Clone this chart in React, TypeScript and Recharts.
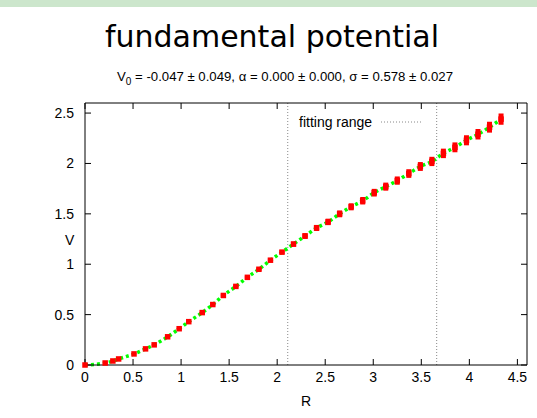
import React from "react";
import {
  ComposedChart,
  Line,
  XAxis,
  YAxis,
  ErrorBar,
  ReferenceLine,
} from "recharts";

// lattice distances R and measured potential V(R) with errors
const rValues = [
  0, 0.21, 0.29, 0.35, 0.51, 0.63, 0.72, 0.86, 0.98, 1.08, 1.22, 1.33, 1.44,
  1.57, 1.69, 1.81, 1.93, 2.05, 2.17, 2.29, 2.41, 2.53, 2.65, 2.77, 2.89, 3.01,
  3.13, 3.25, 3.37, 3.49, 3.61, 3.73, 3.85, 3.97, 4.09, 4.21, 4.33,
];
const vValues = [
  0, 0.02, 0.04, 0.06, 0.11, 0.16, 0.2, 0.28, 0.36, 0.43, 0.52, 0.6, 0.69,
  0.78, 0.87, 0.95, 1.04, 1.12, 1.2, 1.28, 1.36, 1.42, 1.5, 1.57, 1.63, 1.71,
  1.77, 1.83, 1.9, 1.97, 2.02, 2.1, 2.16, 2.23, 2.29, 2.36, 2.44,
];
const vErrors = [
  0, 0.001, 0.002, 0.002, 0.003, 0.004, 0.005, 0.006, 0.007, 0.008, 0.009,
  0.01, 0.011, 0.012, 0.014, 0.016, 0.018, 0.02, 0.025, 0.028, 0.03, 0.032,
  0.034, 0.035, 0.037, 0.038, 0.04, 0.041, 0.043, 0.044, 0.046, 0.047, 0.049,
  0.05, 0.052, 0.054, 0.056,
];
const fitRange = [2.11, 3.66];
const xTicks = [0, 0.5, 1, 1.5, 2, 2.5, 3, 3.5, 4, 4.5];
const yTicks = [0, 0.5, 1, 1.5, 2, 2.5];

const data = rValues.map((r, i) => ({ r, v: vValues[i], err: vErrors[i] }));

const font = "'Liberation Sans', Arial, sans-serif";

const Square = (props: any) => {
  const { cx, cy, index } = props;
  return <rect key={`sq${index}`} x={cx - 2.75} y={cy - 2.75} width={5.5} height={5.5} fill="#ff0000" />;
};

const LegendBox = () => (
  <div style={{ position: "absolute", left: 299, top: 114, fontFamily: font, fontSize: 14, display: "flex", alignItems: "center" }}>
    <span>fitting range</span>
    <svg width={48} height={10} style={{ marginLeft: 9 }}>
      <line x1={0} y1={5} x2={40} y2={5} stroke="#888" strokeWidth={1} strokeDasharray="1 2" />
    </svg>
  </div>
);

const tickStyle = { fontFamily: font, fontSize: 14, fill: "#000" };

export default function App() {
  return (
    <div style={{ position: "absolute", left: 0, top: 0, width: 537, height: 418, background: "#fff" }}>
      <div style={{ position: "absolute", left: 0, top: 0, width: 537, height: 7, background: "#cce6cc" }} />
      <div style={{ position: "absolute", left: 0, width: 544, top: 22, textAlign: "center", fontFamily: "'DejaVu Sans', sans-serif", fontSize: 30, lineHeight: "30px" }}>
        fundamental potential
      </div>
      <div style={{ position: "absolute", left: 0, width: 570, top: 69, textAlign: "center", fontFamily: font, fontSize: 13.2 }}>
        V<sub style={{ fontSize: 10 }}>0</sub> = -0.047 ± 0.049, α = 0.000 ± 0.000, σ = 0.578 ± 0.027
      </div>
      <ComposedChart
        width={537}
        height={418}
        data={data}
        margin={{ top: 97, right: 9, left: 50, bottom: 23 }}
        style={{ position: "absolute", left: 0, top: 0 }}
      >
        <XAxis
          xAxisId="b"
          dataKey="r"
          type="number"
          domain={[0, 4.6]}
          ticks={xTicks}
          height={30}
          tickSize={-6}
          tickMargin={13}
          stroke="#000"
          tick={tickStyle}
        />
        <XAxis
          xAxisId="t"
          dataKey="r"
          orientation="top"
          type="number"
          domain={[0, 4.6]}
          ticks={xTicks}
          height={6}
          tickSize={-6}
          tickFormatter={() => ""}
          stroke="#000"
        />
        <YAxis
          yAxisId="l"
          type="number"
          domain={[0, 2.6]}
          ticks={yTicks}
          width={35}
          tickSize={-6}
          tickMargin={17}
          stroke="#000"
          tick={tickStyle}
        />
        <YAxis
          yAxisId="r"
          orientation="right"
          type="number"
          domain={[0, 2.6]}
          ticks={yTicks}
          width={1}
          tickSize={-6}
          tickFormatter={() => ""}
          stroke="#000"
        />
        {fitRange.map((x) => (
          <ReferenceLine key={x} x={x} xAxisId="b" yAxisId="l" stroke="#888" strokeDasharray="1 2" />
        ))}
        {/* invisible series so the mirrored top/right axes get their scales */}
        <Line
          xAxisId="t"
          yAxisId="r"
          dataKey="v"
          stroke="none"
          dot={false}
          activeDot={false}
          isAnimationActive={false}
        />
        <Line
          xAxisId="b"
          yAxisId="l"
          dataKey="v"
          type="monotone"
          stroke="#00ff00"
          strokeWidth={3.5}
          strokeDasharray="3 3"
          dot={false}
          isAnimationActive={false}
        />
        <Line
          xAxisId="b"
          yAxisId="l"
          dataKey="v"
          stroke="none"
          dot={Square}
          activeDot={false}
          isAnimationActive={false}
        >
          <ErrorBar dataKey="err" width={0} stroke="#ff0000" strokeWidth={5} direction="y" />
        </Line>
      </ComposedChart>
      <LegendBox />
      <div style={{ position: "absolute", left: 65, top: 232, fontFamily: font, fontSize: 14 }}>V</div>
      <div style={{ position: "absolute", left: 301, top: 393, fontFamily: font, fontSize: 14 }}>R</div>
    </div>
  );
}
